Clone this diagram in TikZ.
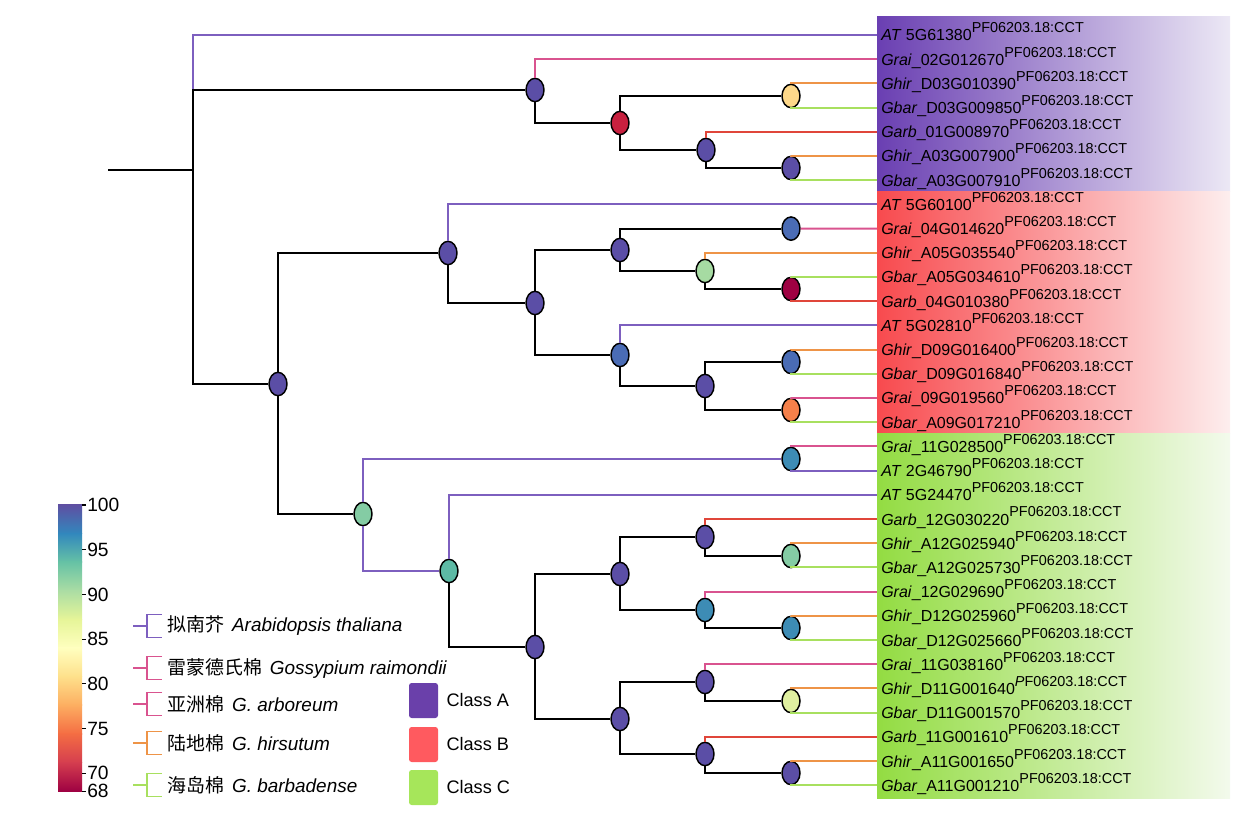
\documentclass[tikz,border=0pt]{standalone}
\usepackage{fontspec}
\setmainfont{Liberation Sans}
\newfontfamily\cjk{Noto Sans CJK SC}
\usepackage{tikz}
\usetikzlibrary{shapes.geometric, positioning}

\definecolor{cAT}{HTML}{7D5FBF}
\definecolor{cGrai}{HTML}{D9538F}
\definecolor{cGarb}{HTML}{E0463A}
\definecolor{cGhir}{HTML}{EE9447}
\definecolor{cGbar}{HTML}{A8E05F}
\definecolor{nPu}{HTML}{5B4EA6}
\definecolor{nBl}{HTML}{4A6CB5}
\definecolor{nTe}{HTML}{3D8CB5}
\definecolor{nTg}{HTML}{5DBAA5}
\definecolor{nGr}{HTML}{84CCA4}
\definecolor{nLg}{HTML}{A6DBA2}
\definecolor{nPa}{HTML}{E0F0A0}
\definecolor{nYe}{HTML}{FDD88A}
\definecolor{nOr}{HTML}{F5804A}
\definecolor{nRe}{HTML}{C8203F}
\definecolor{nDr}{HTML}{9E0142}
\definecolor{clsA}{HTML}{6A3FB2}
\definecolor{clsAr}{HTML}{ECE8F5}
\definecolor{clsB}{HTML}{F84A4E}
\definecolor{clsBr}{HTML}{FDEEEE}
\definecolor{clsC}{HTML}{93DC42}
\definecolor{clsCr}{HTML}{F3FAEC}
\definecolor{keyA}{HTML}{6A40AA}
\definecolor{keyB}{HTML}{FF5A5F}
\definecolor{keyC}{HTML}{A6E65A}
\definecolor{sp1}{HTML}{5E4FA2}
\definecolor{sp2}{HTML}{3288BD}
\definecolor{sp3}{HTML}{66C2A5}
\definecolor{sp4}{HTML}{ABDDA4}
\definecolor{sp5}{HTML}{E6F598}
\definecolor{sp6}{HTML}{FFFFBF}
\definecolor{sp7}{HTML}{FEE08B}
\definecolor{sp8}{HTML}{FDAE61}
\definecolor{sp9}{HTML}{F46D43}
\definecolor{sp10}{HTML}{D53E4F}
\definecolor{sp11}{HTML}{9E0142}

\newcommand{\pf}{\raisebox{6pt}{\fontsize{10.8pt}{12pt}\selectfont PF06203.18:CCT}}
\newcommand{\pfit}{\raisebox{6pt}{\fontsize{10.8pt}{12pt}\selectfont\textit{P}F06203.18:CCT}}

\begin{document}
\begin{tikzpicture}[
    x=0.75pt, y=-0.75pt,
    blk/.style={line width=1.6pt, black},
    eAT/.style={line width=1.4pt, cAT},
    eGrai/.style={line width=1.4pt, cGrai},
    eGarb/.style={line width=1.4pt, cGarb},
    eGhir/.style={line width=1.4pt, cGhir},
    eGbar/.style={line width=1.4pt, cGbar},
    bs/.style={ellipse, draw, line width=1.1pt, minimum width=13.5pt, minimum height=17.5pt, inner sep=0pt},
    leaf/.style={anchor=base west, inner sep=0pt, xshift=3pt, yshift=-4.5pt, font=\fontsize{12pt}{14pt}\selectfont},
    tick/.style={anchor=west, inner sep=0pt, font=\fontsize{14.4pt}{16pt}\selectfont},
    sp/.style={anchor=west, inner sep=0pt, font=\fontsize{14.2pt}{16pt}\selectfont},
    key/.style={rounded corners=2pt, minimum width=21.75pt, minimum height=26.25pt, inner sep=0pt},
    keytxt/.style={anchor=west, inner sep=0pt, font=\fontsize{13.6pt}{16pt}\selectfont}
]
    \useasboundingbox (0,0) rectangle (1250,816);

    \shade[left color=clsA, right color=clsAr] (877,17) rectangle (1230,192);
    \shade[left color=clsB, right color=clsBr] (877,192) rectangle (1230,434);
    \shade[left color=clsC, right color=clsCr] (877,434) rectangle (1230,798);

    \foreach \txt [count=\i] in {
        {\textit{AT} 5G61380}, {\textit{Grai}\_02G012670}, {\textit{Ghir}\_D03G010390}, {\textit{Gbar}\_D03G009850},
        {\textit{Garb}\_01G008970}, {\textit{Ghir}\_A03G007900}, {\textit{Gbar}\_A03G007910},
        {\textit{AT} 5G60100}, {\textit{Grai}\_04G014620}, {\textit{Ghir}\_A05G035540}, {\textit{Gbar}\_A05G034610},
        {\textit{Garb}\_04G010380}, {\textit{AT} 5G02810}, {\textit{Ghir}\_D09G016400}, {\textit{Gbar}\_D09G016840},
        {\textit{Grai}\_09G019560}, {\textit{Gbar}\_A09G017210},
        {\textit{Grai}\_11G028500}, {\textit{AT} 2G46790}, {\textit{AT} 5G24470}, {\textit{Garb}\_12G030220},
        {\textit{Ghir}\_A12G025940}, {\textit{Gbar}\_A12G025730}, {\textit{Grai}\_12G029690}, {\textit{Ghir}\_D12G025960},
        {\textit{Gbar}\_D12G025660}, {\textit{Grai}\_11G038160}, {\textit{Ghir}\_D11G001640}, {\textit{Gbar}\_D11G001570},
        {\textit{Garb}\_11G001610}, {\textit{Ghir}\_A11G001650}, {\textit{Gbar}\_A11G001210}} {
        \coordinate (t\i) at (877,{35+(\i-1)*24.2});
        \node[leaf] (lab\i) at (t\i) {\txt\ifnum\i=28 \pfit\else\pf\fi};
    }

    \coordinate (r0) at (108,170);
    \coordinate (r) at (193,170);
    \node[bs, fill=nPu] (nA1) at (535,90) {};
    \node[bs, fill=nRe] (nA2) at (620,123) {};
    \node[bs, fill=nYe] (nA3) at (791,96) {};
    \node[bs, fill=nPu] (nA4) at (706,150) {};
    \node[bs, fill=nPu] (nA5) at (791,168) {};
    \node[bs, fill=nPu] (n1) at (278,384) {};
    \node[bs, fill=nPu] (nB1) at (448,253) {};
    \node[bs, fill=nPu] (nB2) at (535,303) {};
    \node[bs, fill=nPu] (nB3) at (620,250) {};
    \node[bs, fill=nLg] (nB4) at (705,271) {};
    \node[bs, fill=nBl] (nB5) at (620,355) {};
    \node[bs, fill=nPu] (nB6) at (705,386) {};
    \node[bs, fill=nBl] (nB7) at (791,228.6) {};
    \node[bs, fill=nDr] (nB8) at (791,289) {};
    \node[bs, fill=nBl] (nB9) at (791,362) {};
    \node[bs, fill=nOr] (nB10) at (791,410) {};
    \node[bs, fill=nGr] (nC1) at (363,514) {};
    \node[bs, fill=nTg] (nC2) at (449,571) {};
    \node[bs, fill=nPu] (nC3) at (535,647) {};
    \node[bs, fill=nPu] (nC4) at (620,574) {};
    \node[bs, fill=nPu] (nC5) at (620,719) {};
    \node[bs, fill=nPu] (nC6) at (705,537) {};
    \node[bs, fill=nTe] (nC7) at (705,610) {};
    \node[bs, fill=nPu] (nC8) at (705,682) {};
    \node[bs, fill=nPu] (nC9) at (705,754) {};
    \node[bs, fill=nTe] (nC10) at (791,459) {};
    \node[bs, fill=nGr] (nC11) at (791,556) {};
    \node[bs, fill=nTe] (nC12) at (791,628) {};
    \node[bs, fill=nPa] (nC13) at (791,701) {};
    \node[bs, fill=nPu] (nC14) at (791,773) {};

    \draw[blk] (r0) -- (r);
    \draw[eAT] (r) |- (t1);
    \draw[blk] (r) |- (nA1);
    \draw[blk] (r) |- (n1);

    \draw[eGrai] (nA1) |- (t2);
    \draw[blk] (nA1) |- (nA2);
    \draw[blk] (nA2) |- (nA3);
    \draw[blk] (nA2) |- (nA4);
    \draw[eGhir] (nA3) |- (t3);
    \draw[eGbar] (nA3) |- (t4);
    \draw[eGarb] (nA4) |- (t5);
    \draw[blk] (nA4) |- (nA5);
    \draw[eGhir] (nA5) |- (t6);
    \draw[eGbar] (nA5) |- (t7);

    \draw[blk] (n1) |- (nB1);
    \draw[eAT] (nB1) |- (t8);
    \draw[blk] (nB1) |- (nB2);
    \draw[blk] (nB2) |- (nB3);
    \draw[blk] (nB2) |- (nB5);
    \draw[blk] (nB3) |- (nB7);
    \draw[blk] (nB3) |- (nB4);
    \draw[eGrai] (nB7) -- (t9);
    \draw[eGhir] (nB4) |- (t10);
    \draw[blk] (nB4) |- (nB8);
    \draw[eGbar] (nB8) |- (t11);
    \draw[eGarb] (nB8) |- (t12);
    \draw[eAT] (nB5) |- (t13);
    \draw[blk] (nB5) |- (nB6);
    \draw[blk] (nB6) |- (nB9);
    \draw[blk] (nB6) |- (nB10);
    \draw[eGhir] (nB9) |- (t14);
    \draw[eGbar] (nB9) |- (t15);
    \draw[eGrai] (nB10) |- (t16);
    \draw[eGbar] (nB10) |- (t17);

    \draw[blk] (n1) |- (nC1);
    \draw[eAT] (nC1) |- (nC10);
    \draw[eAT] (nC1) |- (nC2);
    \draw[eGrai] (nC10) |- (t18);
    \draw[eAT] (nC10) |- (t19);
    \draw[eAT] (nC2) |- (t20);
    \draw[blk] (nC2) |- (nC3);
    \draw[blk] (nC3) |- (nC4);
    \draw[blk] (nC3) |- (nC5);
    \draw[blk] (nC4) |- (nC6);
    \draw[blk] (nC4) |- (nC7);
    \draw[eGarb] (nC6) |- (t21);
    \draw[blk] (nC6) |- (nC11);
    \draw[eGhir] (nC11) |- (t22);
    \draw[eGbar] (nC11) |- (t23);
    \draw[eGrai] (nC7) |- (t24);
    \draw[blk] (nC7) |- (nC12);
    \draw[eGhir] (nC12) |- (t25);
    \draw[eGbar] (nC12) |- (t26);
    \draw[blk] (nC5) |- (nC8);
    \draw[blk] (nC5) |- (nC9);
    \draw[eGrai] (nC8) |- (t27);
    \draw[blk] (nC8) |- (nC13);
    \draw[eGhir] (nC13) |- (t28);
    \draw[eGbar] (nC13) |- (t29);
    \draw[eGarb] (nC9) |- (t30);
    \draw[blk] (nC9) |- (nC14);
    \draw[eGhir] (nC14) |- (t31);
    \draw[eGbar] (nC14) |- (t32);

    \foreach \i [evaluate=\i as \j using int(\i+1)] in {1,...,10}
        \shade[top color=sp\i, bottom color=sp\j] (58,{505+(\i-1)*28.6-0.3}) rectangle (82,{505+\i*28.6+0.3});
    \foreach \v in {100,95,90,85,80,75,70,68} {
        \draw[line width=0.8pt] (82,{505+(100-\v)*8.94}) -- (86,{505+(100-\v)*8.94});
        \node[tick] (tk\v) at (87,{505+(100-\v)*8.94}) {\v};
    }

    \foreach \y/\c in {626/cAT, 668/cGrai, 704/cGrai, 743/cGhir, 785/cGbar}
        \draw[\c, line width=1.4pt] (133,\y) -- (147,\y) (162,{\y-11.5}) -| (147,{\y+11.5}) -- (162,{\y+11.5});
    \node[sp] (spAT) at (167,626) {{\cjk 拟南芥}\hspace{6pt}\textit{Arabidopsis thaliana}};
    \node[sp] (spGrai) at (167,668) {{\cjk 雷蒙德氏棉}\hspace{6pt}\textit{Gossypium raimondii}};
    \node[sp] (spGarb) at (167,704) {{\cjk 亚洲棉}\hspace{6pt}\textit{G. arboreum}};
    \node[sp] (spGhir) at (167,743) {{\cjk 陆地棉}\hspace{6pt}\textit{G. hirsutum}};
    \node[sp] (spGbar) at (167,785) {{\cjk 海岛棉}\hspace{6pt}\textit{G. barbadense}};

    \node[key, fill=keyA] (keyA) at (423.5,700.5) {};
    \node[key, fill=keyB] (keyB) at (423.5,744.5) {};
    \node[key, fill=keyC] (keyC) at (423.5,787.5) {};
    \node[keytxt, right=6pt of keyA] {Class A};
    \node[keytxt, right=6pt of keyB] {Class B};
    \node[keytxt, right=6pt of keyC] {Class C};
\end{tikzpicture}
\end{document}
